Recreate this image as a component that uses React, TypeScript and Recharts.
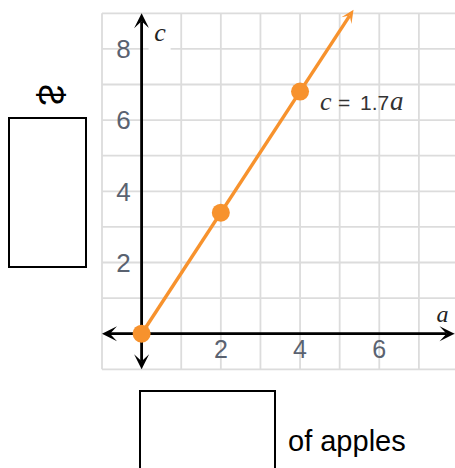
import React from 'react'
import { ComposedChart, XAxis, YAxis, ReferenceLine, ReferenceDot, Scatter } from 'recharts'

// grid lines (integer steps) and labelled ticks
const gridA = [-1, 0, 1, 2, 3, 4, 5, 6, 7, 8]
const gridC = [-1, 0, 1, 2, 3, 4, 5, 6, 7, 8, 9]
const xTicks = [2, 4, 6]
const yTicks = [2, 4, 6, 8]

// c = 1.7a
const points = [
  { a: 0, c: 0 },
  { a: 2, c: 3.4 },
  { a: 4, c: 6.8 },
]
const rayEnd = { a: 5.35, c: 9.1 }
const xAxisEnds = [-1, 7.9]
const yAxisEnds = [-1, 9]

const ORANGE = '#f7922d'
const GRID = '#dcdcdc'
const TICK = '#5a6270'
const SANS = '"Liberation Sans", Arial, sans-serif'
const SERIF = '"Liberation Serif", "Times New Roman", serif'

function headPath(tx: number, ty: number, ux: number, uy: number, len: number, half: number, notch: number) {
  const bx = tx - ux * len
  const by = ty - uy * len
  const nx = -uy
  const ny = ux
  const ix = tx - ux * notch
  const iy = ty - uy * notch
  return `M${tx},${ty} L${bx + nx * half},${by + ny * half} L${ix},${iy} L${bx - nx * half},${by - ny * half} Z`
}

function ArrowLine(props: any) {
  const { x1, y1, x2, y2, color, width, both, len, half, notch } = props
  const dx = x2 - x1
  const dy = y2 - y1
  const d = Math.sqrt(dx * dx + dy * dy) || 1
  const ux = dx / d
  const uy = dy / d
  const sx = both ? x1 + ux * notch : x1
  const sy = both ? y1 + uy * notch : y1
  return (
    <g>
      <line x1={sx} y1={sy} x2={x2 - ux * notch} y2={y2 - uy * notch} stroke={color} strokeWidth={width} />
      <path d={headPath(x2, y2, ux, uy, len, half, notch)} fill={color} />
      {both && <path d={headPath(x1, y1, -ux, -uy, len, half, notch)} fill={color} />}
    </g>
  )
}

const axisShape = (p: any) => <ArrowLine {...p} color="#000" width={2.8} both len={15} half={7.5} notch={8} />
const rayShape = (p: any) => <ArrowLine {...p} color={ORANGE} width={3.4} len={13} half={6} notch={7} />

const dotShape = (p: any) => <circle cx={p.cx} cy={p.cy} r={9} fill={ORANGE} />

function CLabel(props: any) {
  const { x, y } = props.viewBox
  return (
    <g>
      <rect x={x + 7} y={y + 13} width={22} height={37} fill="#fff" />
      <text x={x + 18.5} y={y + 28} textAnchor="middle" fontFamily={SERIF} fontStyle="italic" fontSize={26} fill="#222">c</text>
    </g>
  )
}

function ALabel(props: any) {
  const { x, y } = props.viewBox
  return (
    <text x={x - 12} y={y - 12} textAnchor="middle" fontFamily={SERIF} fontStyle="italic" fontSize={24} fill="#222">a</text>
  )
}

function EqLabel(props: any) {
  const { x, y } = props.viewBox
  const x0 = x + 20
  const base = y + 18.8
  return (
    <text y={base} fill="#333" fontSize={21} fontFamily={SANS}>
      <tspan x={x0} fontFamily={SERIF} fontStyle="italic" fontSize={26}>c</tspan>
      <tspan x={x0 + 18}>=</tspan>
      <tspan x={x0 + 40}>1.7</tspan>
      <tspan x={x0 + 70} fontFamily={SERIF} fontStyle="italic" fontSize={27}>a</tspan>
    </text>
  )
}

export default function App() {
  return (
    <div style={{ position: 'fixed', left: 0, top: 0, width: 455, height: 468, overflow: 'hidden', background: '#fff' }}>
      <div style={{ position: 'absolute', left: 0, top: 0 }}>
        <ComposedChart width={460} height={468} margin={{ top: 13.3, right: 1.5, bottom: 98.7, left: 102 }}>
          <XAxis type="number" dataKey="a" domain={[-1, 8]} allowDataOverflow hide />
          <YAxis type="number" dataKey="c" domain={[-1, 9]} allowDataOverflow hide />
          {gridA.map((v) => (
            <ReferenceLine key={'ga' + v} x={v} stroke={GRID} strokeWidth={1.8} />
          ))}
          {gridC.map((v) => (
            <ReferenceLine key={'gc' + v} y={v} stroke={GRID} strokeWidth={1.8} />
          ))}
          <ReferenceLine
            segment={[{ x: xAxisEnds[0], y: 0 }, { x: xAxisEnds[1], y: 0 }]}
            shape={axisShape}
            ifOverflow="visible"
          />
          <ReferenceLine
            segment={[{ x: 0, y: yAxisEnds[0] }, { x: 0, y: yAxisEnds[1] }]}
            shape={axisShape}
            ifOverflow="visible"
          />
          <ReferenceLine
            segment={[{ x: points[0].a, y: points[0].c }, { x: rayEnd.a, y: rayEnd.c }]}
            shape={rayShape}
            ifOverflow="visible"
          />
          {yTicks.map((v) => (
            <ReferenceDot
              key={'yt' + v}
              x={0}
              y={v}
              r={0}
              fill="none"
              stroke="none"
              label={{ value: String(v), position: 'left', offset: 11, fill: TICK, fontSize: 26, fontFamily: SANS }}
            />
          ))}
          {xTicks.map((v) => (
            <ReferenceDot
              key={'xt' + v}
              x={v}
              y={0}
              r={0}
              fill="none"
              stroke="none"
              label={{ value: String(v), position: 'bottom', offset: 7, fill: TICK, fontSize: 25, fontFamily: SANS }}
            />
          ))}
          <ReferenceDot x={0} y={yAxisEnds[1]} r={0} fill="none" stroke="none" ifOverflow="visible" label={<CLabel />} />
          <ReferenceDot x={xAxisEnds[1]} y={0} r={0} fill="none" stroke="none" ifOverflow="visible" label={<ALabel />} />
          <ReferenceDot x={points[2].a} y={points[2].c} r={0} fill="none" stroke="none" label={<EqLabel />} />
          <Scatter data={points} dataKey="c" fill={ORANGE} shape={dotShape} isAnimationActive={false} />
        </ComposedChart>
      </div>

      <div
        style={{
          position: 'absolute',
          left: 50,
          top: 95,
          fontFamily: SANS,
          fontSize: 36,
          lineHeight: 1,
          color: '#000',
          transform: 'translate(-50%, -50%) scaleY(-1) rotate(90deg)',
        }}
      >
        $
      </div>
      <div style={{ position: 'absolute', left: 8, top: 117, width: 79, height: 151, border: '2px solid #000', boxSizing: 'border-box' }} />
      <div style={{ position: 'absolute', left: 139, top: 390, width: 137, height: 90, border: '2px solid #000', boxSizing: 'border-box' }} />
      <div style={{ position: 'absolute', left: 288, top: 427, fontFamily: SANS, fontSize: 29, lineHeight: 1, color: '#000' }}>
        of apples
      </div>
    </div>
  )
}
